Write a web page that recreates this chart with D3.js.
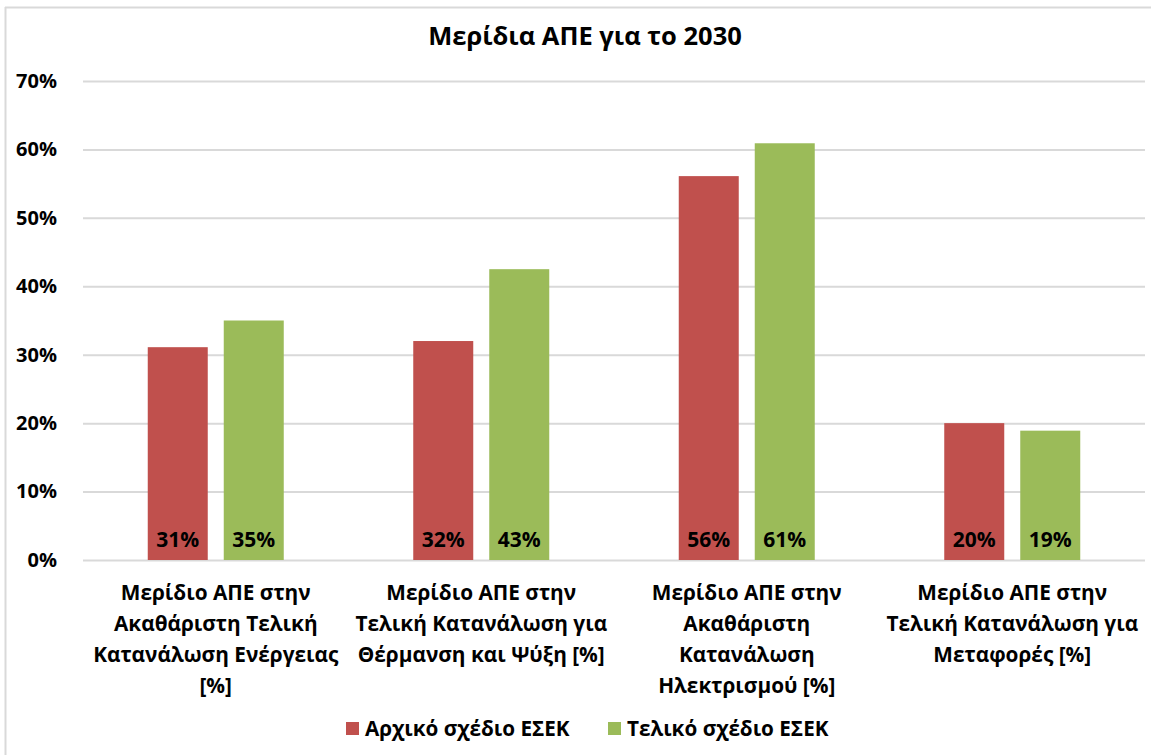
<!DOCTYPE html>
<html>
<head>
<meta charset="utf-8">
<script src="https://cdn.jsdelivr.net/npm/d3@7"></script>
<style>
  html, body { margin: 0; padding: 0; background: #fff; }
  svg { display: block; }
  text { font-family: "Open Sans", "Noto Sans", sans-serif; font-weight: bold; fill: #000; }
</style>
</head>
<body>
<svg id="chart" width="1151" height="755"></svg>
<script>
const title = "Μερίδια ΑΠΕ για το 2030";
const categories = [
  ["Μερίδιο ΑΠΕ στην", "Ακαθάριστη Τελική", "Κατανάλωση Ενέργειας", "[%]"],
  ["Μερίδιο ΑΠΕ στην", "Τελική Κατανάλωση για", "Θέρμανση και Ψύξη [%]"],
  ["Μερίδιο ΑΠΕ στην", "Ακαθάριστη", "Κατανάλωση", "Ηλεκτρισμού [%]"],
  ["Μερίδιο ΑΠΕ στην", "Τελική Κατανάλωση για", "Μεταφορές [%]"]
];
const seriesNames = ["Αρχικό σχέδιο ΕΣΕΚ", "Τελικό σχέδιο ΕΣΕΚ"];
const initialPlan = [0.311, 0.32, 0.561, 0.20];
const finalPlan = [0.35, 0.425, 0.609, 0.189];
const yTicks = [0, 0.1, 0.2, 0.3, 0.4, 0.5, 0.6, 0.7];
const colors = ["#C0504D", "#9BBB59"];

const seriesValues = [initialPlan, finalPlan];
const svg = d3.select("#chart");

// chart border (left and top visible)
svg.append("line").attr("x1", 5.5).attr("x2", 5.5).attr("y1", 7).attr("y2", 755)
  .attr("stroke", "#d9d9d9").attr("stroke-width", 2);
svg.append("line").attr("x1", 5).attr("x2", 1151).attr("y1", 7.5).attr("y2", 7.5)
  .attr("stroke", "#d9d9d9").attr("stroke-width", 2);

const plot = { left: 83, right: 1145, top: 81, bottom: 560 };

const y = d3.scaleLinear().domain([0, 0.7]).range([plot.bottom, plot.top]);
const x0 = d3.scaleBand().domain(d3.range(categories.length)).range([plot.left, plot.right]).padding(0);
const x1 = d3.scaleBand().domain(d3.range(seriesNames.length)).range([0, 136]).paddingInner(16 / 76).paddingOuter(0);

// gridlines
const yAxis = d3.axisLeft(y).tickValues(yTicks).tickFormat(d3.format(".0%"))
  .tickSize(-(plot.right - plot.left)).tickPadding(26);
const gy = svg.append("g").attr("transform", `translate(${plot.left},0)`).call(yAxis);
gy.select(".domain").remove();
gy.selectAll(".tick line").attr("stroke", "#d9d9d9").attr("stroke-width", 2);
gy.selectAll(".tick text").attr("font-size", 20).attr("fill", "#000")
  .style("font-family", "'Open Sans', sans-serif").style("font-weight", "bold");

// bars
const groups = svg.append("g").selectAll("g").data(categories).join("g")
  .attr("transform", (d, i) => `translate(${x0(i) + (x0.bandwidth() - 136) / 2},0)`);

groups.each(function(cat, ci) {
  const g = d3.select(this);
  seriesValues.forEach((vals, si) => {
    g.append("rect")
      .attr("x", x1(si)).attr("width", x1.bandwidth())
      .attr("y", y(vals[ci])).attr("height", y(0) - y(vals[ci]))
      .attr("fill", colors[si]);
    g.append("text")
      .attr("x", x1(si) + x1.bandwidth() / 2).attr("y", plot.bottom - 13)
      .attr("text-anchor", "middle").attr("font-size", 21)
      .text(d3.format(".0%")(vals[ci]));
  });
});

// category labels
const xl = svg.append("g").selectAll("text").data(categories).join("text")
  .attr("text-anchor", "middle").attr("font-size", 20.8)
  .attr("x", (d, i) => x0(i) + x0.bandwidth() / 2)
  .attr("y", 600);
xl.each(function(lines) {
  const t = d3.select(this);
  lines.forEach((ln, k) => {
    t.append("tspan").attr("x", t.attr("x")).attr("dy", k === 0 ? 0 : 31).text(ln);
  });
});

// title
svg.append("text").attr("x", 585).attr("y", 45).attr("text-anchor", "middle")
  .attr("font-size", 25.5).text(title);

// legend
const legendX = [346, 608];
seriesNames.forEach((name, i) => {
  svg.append("rect").attr("x", legendX[i]).attr("y", 722).attr("width", 13).attr("height", 13)
    .attr("fill", colors[i]);
  svg.append("text").attr("x", legendX[i] + 19).attr("y", 736).attr("font-size", 20.7).text(name);
});
</script>
</body>
</html>
